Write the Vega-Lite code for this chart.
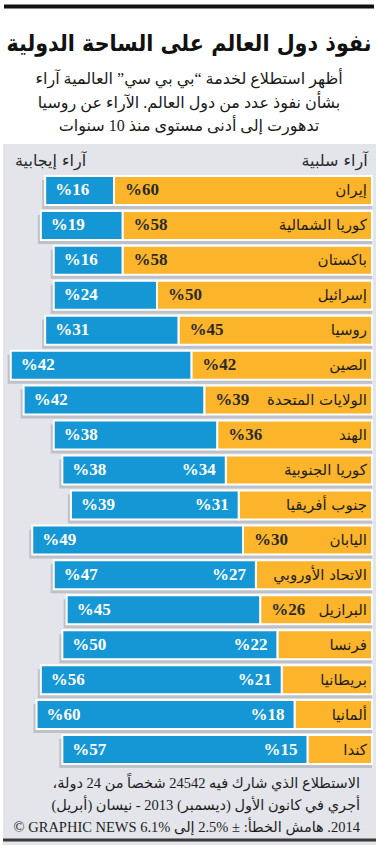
{
  "$schema": "https://vega.github.io/schema/vega-lite/v6.json",
  "width": 373,
  "height": 701,
  "autosize": {"type": "none"},
  "padding": {"left": 3, "right": 2, "top": 144, "bottom": 0},
  "background": "white",
  "config": {"view": {"fill": "#e3e5ea", "stroke": null}, "font": "DejaVu Sans"},
  "datasets": {
    "bars": [
      {"country": "إيران", "type": "neg", "value": 60},
      {"country": "إيران", "type": "pos", "value": 16},
      {"country": "كوريا الشمالية", "type": "neg", "value": 58},
      {"country": "كوريا الشمالية", "type": "pos", "value": 19},
      {"country": "باكستان", "type": "neg", "value": 58},
      {"country": "باكستان", "type": "pos", "value": 16},
      {"country": "إسرائيل", "type": "neg", "value": 50},
      {"country": "إسرائيل", "type": "pos", "value": 24},
      {"country": "روسيا", "type": "neg", "value": 45},
      {"country": "روسيا", "type": "pos", "value": 31},
      {"country": "الصين", "type": "neg", "value": 42},
      {"country": "الصين", "type": "pos", "value": 42},
      {"country": "الولايات المتحدة", "type": "neg", "value": 39},
      {"country": "الولايات المتحدة", "type": "pos", "value": 42},
      {"country": "الهند", "type": "neg", "value": 36},
      {"country": "الهند", "type": "pos", "value": 38},
      {"country": "كوريا الجنوبية", "type": "neg", "value": 34},
      {"country": "كوريا الجنوبية", "type": "pos", "value": 38},
      {"country": "جنوب أفريقيا", "type": "neg", "value": 31},
      {"country": "جنوب أفريقيا", "type": "pos", "value": 39},
      {"country": "اليابان", "type": "neg", "value": 30},
      {"country": "اليابان", "type": "pos", "value": 49},
      {"country": "الاتحاد الأوروبي", "type": "neg", "value": 27},
      {"country": "الاتحاد الأوروبي", "type": "pos", "value": 47},
      {"country": "البرازيل", "type": "neg", "value": 26},
      {"country": "البرازيل", "type": "pos", "value": 45},
      {"country": "فرنسا", "type": "neg", "value": 22},
      {"country": "فرنسا", "type": "pos", "value": 50},
      {"country": "بريطانيا", "type": "neg", "value": 21},
      {"country": "بريطانيا", "type": "pos", "value": 56},
      {"country": "ألمانيا", "type": "neg", "value": 18},
      {"country": "ألمانيا", "type": "pos", "value": 60},
      {"country": "كندا", "type": "neg", "value": 15},
      {"country": "كندا", "type": "pos", "value": 57}
    ]
  },
  "layer": [
    {
      "data": {"name": "bars"},
      "transform": [
        {"stack": "value", "groupby": ["country"], "sort": [{"field": "type", "order": "ascending"}], "as": ["v0", "v1"]},
        {"filter": "datum.type == 'pos'"}
      ],
      "mark": {"type": "bar", "color": "#9a9ea7", "opacity": 0.5, "xOffset": -3, "yOffset": 4},
      "encoding": {
        "y": {"field": "country", "type": "nominal", "sort": null, "axis": null, "scale": {"range": [29, 623], "paddingInner": 0.17, "paddingOuter": 0.085}},
        "x": {"field": "v1", "type": "quantitative", "axis": null, "scale": {"domain": [0, 85.8], "range": [369, 0], "nice": false, "zero": false}},
        "x2": {"datum": 0}
      }
    },
    {
      "data": {"name": "bars"},
      "transform": [
        {"stack": "value", "groupby": ["country"], "sort": [{"field": "type", "order": "ascending"}], "as": ["v0", "v1"]}
      ],
      "mark": {"type": "bar", "stroke": "white", "strokeWidth": 2},
      "encoding": {
        "y": {"field": "country", "type": "nominal", "sort": null, "axis": null},
        "x": {"field": "v0", "type": "quantitative", "axis": null},
        "x2": {"field": "v1"},
        "color": {"field": "type", "type": "nominal", "legend": null, "scale": {"domain": ["neg", "pos"], "range": ["#fcb52b", "#1597d6"]}}
      }
    },
    {
      "data": {"name": "bars"},
      "transform": [{"filter": "datum.type == 'neg'"}],
      "mark": {"type": "text", "align": "right", "baseline": "middle", "dx": -5, "fontSize": 15, "color": "#1e1e1e", "font": "DejaVu Sans"},
      "encoding": {
        "y": {"field": "country", "type": "nominal", "sort": null, "axis": null},
        "x": {"datum": 0, "type": "quantitative"},
        "text": {"field": "country"}
      }
    },
    {
      "data": {"name": "bars"},
      "transform": [
        {"stack": "value", "groupby": ["country"], "sort": [{"field": "type", "order": "ascending"}], "as": ["v0", "v1"]},
        {"filter": "datum.type == 'neg' && datum.value >= 26 && indexof(['الاتحاد الأوروبي', 'كوريا الجنوبية', 'جنوب أفريقيا'], datum.country) < 0"},
        {"calculate": "'%' + datum.value", "as": "label"}
      ],
      "mark": {"type": "text", "align": "left", "baseline": "middle", "dx": 11, "fontSize": 17, "fontWeight": "bold", "font": "Liberation Serif", "color": "#2a2a2a"},
      "encoding": {
        "y": {"field": "country", "type": "nominal", "sort": null, "axis": null},
        "x": {"field": "v1", "type": "quantitative"},
        "text": {"field": "label"}
      }
    },
    {
      "data": {"name": "bars"},
      "transform": [
        {"stack": "value", "groupby": ["country"], "sort": [{"field": "type", "order": "ascending"}], "as": ["v0", "v1"]},
        {"filter": "datum.type == 'neg' && (datum.value < 26 || indexof(['الاتحاد الأوروبي', 'كوريا الجنوبية', 'جنوب أفريقيا'], datum.country) >= 0)"},
        {"calculate": "'%' + datum.value", "as": "label"}
      ],
      "mark": {"type": "text", "align": "right", "baseline": "middle", "dx": -10, "fontSize": 17, "fontWeight": "bold", "font": "Liberation Serif", "color": "white"},
      "encoding": {
        "y": {"field": "country", "type": "nominal", "sort": null, "axis": null},
        "x": {"field": "v1", "type": "quantitative"},
        "text": {"field": "label"}
      }
    },
    {
      "data": {"name": "bars"},
      "transform": [
        {"stack": "value", "groupby": ["country"], "sort": [{"field": "type", "order": "ascending"}], "as": ["v0", "v1"]},
        {"filter": "datum.type == 'pos'"},
        {"calculate": "'%' + datum.value", "as": "label"}
      ],
      "mark": {"type": "text", "align": "left", "baseline": "middle", "dx": 10, "fontSize": 17, "fontWeight": "bold", "font": "Liberation Serif", "color": "white"},
      "encoding": {
        "y": {"field": "country", "type": "nominal", "sort": null, "axis": null},
        "x": {"field": "v1", "type": "quantitative"},
        "text": {"field": "label"}
      }
    },
    {
      "data": {"values": [{}]},
      "mark": {"type": "text", "align": "left", "baseline": "middle", "fontSize": 16, "color": "#2a2a2a", "font": "DejaVu Sans"},
      "encoding": {
        "x": {"datum": 83, "type": "quantitative"},
        "y": {"value": 17},
        "text": {"value": "آراء إيجابية"}
      }
    },
    {
      "data": {"values": [{}]},
      "mark": {"type": "text", "align": "right", "baseline": "middle", "fontSize": 16, "color": "#2a2a2a", "font": "DejaVu Sans"},
      "encoding": {
        "x": {"datum": 1, "type": "quantitative"},
        "y": {"value": 17},
        "text": {"value": "آراء سلبية"}
      }
    },
    {
      "data": {"values": [{}]},
      "mark": {"type": "text", "align": "center", "baseline": "alphabetic", "fontSize": 23, "fontWeight": "bold", "color": "#111111", "font": "DejaVu Sans Condensed, DejaVu Sans"},
      "encoding": {
        "x": {"value": 186},
        "y": {"value": -93},
        "text": {"value": "نفوذ دول العالم على الساحة الدولية"}
      }
    },
    {
      "data": {"values": [{}]},
      "mark": {"type": "text", "align": "center", "baseline": "alphabetic", "fontSize": 16, "lineHeight": 23.5, "color": "#1a1a1a", "font": "Liberation Serif, DejaVu Sans"},
      "encoding": {
        "x": {"value": 186},
        "y": {"value": -60},
        "text": {"value": ["‫أظهر استطلاع لخدمة “بي بي سي” العالمية آراء‬", "‫بشأن نفوذ عدد من دول العالم. الآراء عن روسيا‬", "‫تدهورت إلى أدنى مستوى منذ 10 سنوات‬"]}
      }
    },
    {
      "data": {"values": [{}]},
      "mark": {"type": "text", "align": "right", "baseline": "top", "fontSize": 14.5, "lineHeight": 22, "color": "#1e1e1e", "font": "Liberation Serif, DejaVu Sans"},
      "encoding": {
        "x": {"value": 357},
        "y": {"value": 633},
        "text": {"value": ["‫الاستطلاع الذي شارك فيه 24542 شخصاً من 24 دولة،‬", "‫أجري في كانون الأول (ديسمبر) 2013 - نيسان (أبريل)‬", "‫2014. هامش الخطأ: ± %2.5 إلى %6.1 GRAPHIC NEWS ©‬"]}
      }
    },
    {
      "data": {"values": [{}]},
      "mark": {"type": "rule", "color": "#111111", "strokeWidth": 4},
      "encoding": {
        "x": {"value": 1},
        "x2": {"value": 371},
        "y": {"value": -137.5}
      }
    },
    {
      "data": {"values": [{}]},
      "mark": {"type": "rule", "color": "#3a3a3a", "strokeWidth": 3},
      "encoding": {
        "x": {"value": 0},
        "x2": {"value": 373},
        "y": {"value": 696}
      }
    }
  ]
}
